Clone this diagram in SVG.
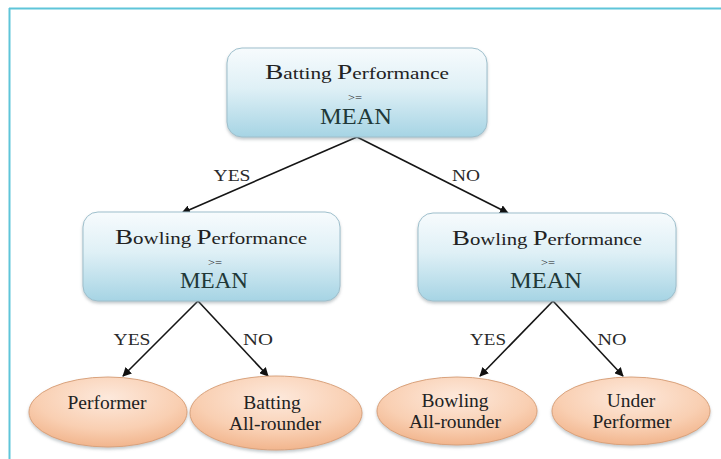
<svg xmlns="http://www.w3.org/2000/svg" width="721" height="459" viewBox="0 0 721 459">
<defs>
<linearGradient id="boxGrad" x1="0" y1="0" x2="0" y2="1">
<stop offset="0" stop-color="#f7fbfd"/>
<stop offset="0.45" stop-color="#dff0f6"/>
<stop offset="1" stop-color="#a6d4e4"/>
</linearGradient>
<radialGradient id="ellGrad" cx="0.5" cy="0.3" r="0.75">
<stop offset="0" stop-color="#fde9dc"/>
<stop offset="0.6" stop-color="#f9cfb2"/>
<stop offset="1" stop-color="#f0b086"/>
</radialGradient>
<filter id="shadow" x="-10%" y="-10%" width="120%" height="130%">
<feDropShadow dx="0" dy="2" stdDeviation="1.5" flood-color="#7a8a90" flood-opacity="0.45"/>
</filter>
<marker id="arrow" viewBox="0 0 10 10" refX="9" refY="5" markerWidth="9" markerHeight="9" markerUnits="userSpaceOnUse" orient="auto">
<path d="M0,0 L10,5 L0,10 z" fill="#111"/>
</marker>
</defs>
<style>
.box{fill:url(#boxGrad);stroke:#9ebfcc;stroke-width:1;filter:url(#shadow)}
.ell{fill:url(#ellGrad);stroke:#d9a27c;stroke-width:1;filter:url(#shadow)}
.t{font-family:"Liberation Serif","Times New Roman",serif;fill:#222;text-anchor:middle}
.head{font-size:17px}
.cap{font-size:22px}
.ge{font-size:10px}
.mean{font-size:24px;fill:#213838}
.lbl{font-size:17px;fill:#2a2a2a}
.leaf{font-size:19.5px}
.conn{stroke:#151515;stroke-width:1.6;fill:none;marker-end:url(#arrow)}
</style>
<rect x="0" y="0" width="721" height="459" fill="#ffffff"/>
<g id="frame">
<line x1="9" y1="8.5" x2="721" y2="8.5" stroke="#5fc5d9" stroke-width="2"/>
<line x1="9.5" y1="8" x2="9.5" y2="459" stroke="#5fc5d9" stroke-width="2"/>
</g>
<g id="connectors">
<line class="conn" x1="357" y1="137" x2="182" y2="213"/>
<line class="conn" x1="357" y1="137" x2="508" y2="213"/>
<line class="conn" x1="198" y1="301" x2="123" y2="376"/>
<line class="conn" x1="198" y1="301" x2="268" y2="376"/>
<line class="conn" x1="553" y1="301" x2="480" y2="376"/>
<line class="conn" x1="553" y1="301" x2="623" y2="376"/>
<text class="t lbl" x="232" y="181" textLength="37" lengthAdjust="spacingAndGlyphs">YES</text>
<text class="t lbl" x="466" y="181" textLength="28" lengthAdjust="spacingAndGlyphs">NO</text>
<text class="t lbl" x="132" y="345" textLength="37" lengthAdjust="spacingAndGlyphs">YES</text>
<text class="t lbl" x="258" y="345" textLength="30" lengthAdjust="spacingAndGlyphs">NO</text>
<text class="t lbl" x="488" y="345" textLength="36" lengthAdjust="spacingAndGlyphs">YES</text>
<text class="t lbl" x="612" y="345" textLength="29" lengthAdjust="spacingAndGlyphs">NO</text>
</g>
<g id="batting">
<rect class="box" x="227" y="48" width="260" height="89" rx="15"/>
<text class="t head" x="357" y="79" textLength="184" lengthAdjust="spacingAndGlyphs"><tspan class="cap">B</tspan>atting <tspan class="cap">P</tspan>erformance</text>
<text class="t ge" x="355" y="101" textLength="14" lengthAdjust="spacingAndGlyphs">&gt;=</text>
<text class="t mean" x="356" y="124" textLength="72" lengthAdjust="spacingAndGlyphs">MEAN</text>
</g>
<g id="bowling-left">
<rect class="box" x="83" y="212" width="257" height="89" rx="15"/>
<text class="t head" x="211" y="244" textLength="192" lengthAdjust="spacingAndGlyphs"><tspan class="cap">B</tspan>owling <tspan class="cap">P</tspan>erformance</text>
<text class="t ge" x="215" y="266" textLength="14" lengthAdjust="spacingAndGlyphs">&gt;=</text>
<text class="t mean" x="214" y="288" textLength="68" lengthAdjust="spacingAndGlyphs">MEAN</text>
</g>
<g id="bowling-right">
<rect class="box" x="418" y="213" width="258" height="88" rx="15"/>
<text class="t head" x="547" y="245" textLength="190" lengthAdjust="spacingAndGlyphs"><tspan class="cap">B</tspan>owling <tspan class="cap">P</tspan>erformance</text>
<text class="t ge" x="548" y="266" textLength="14" lengthAdjust="spacingAndGlyphs">&gt;=</text>
<text class="t mean" x="546" y="288" textLength="72" lengthAdjust="spacingAndGlyphs">MEAN</text>
</g>
<g id="performer">
<ellipse class="ell" cx="108" cy="412" rx="79" ry="35"/>
<text class="t leaf" x="107" y="409">Performer</text>
</g>
<g id="batting-allrounder">
<ellipse class="ell" cx="276" cy="413" rx="86" ry="37"/>
<text class="t leaf" x="272" y="409">Batting</text>
<text class="t leaf" x="275" y="430">All-rounder</text>
</g>
<g id="bowling-allrounder">
<ellipse class="ell" cx="457" cy="411" rx="80" ry="34"/>
<text class="t leaf" x="455" y="407">Bowling</text>
<text class="t leaf" x="455" y="428">All-rounder</text>
</g>
<g id="under-performer">
<ellipse class="ell" cx="631" cy="411" rx="79" ry="34"/>
<text class="t leaf" x="631" y="407">Under</text>
<text class="t leaf" x="632" y="428">Performer</text>
</g>
</svg>
